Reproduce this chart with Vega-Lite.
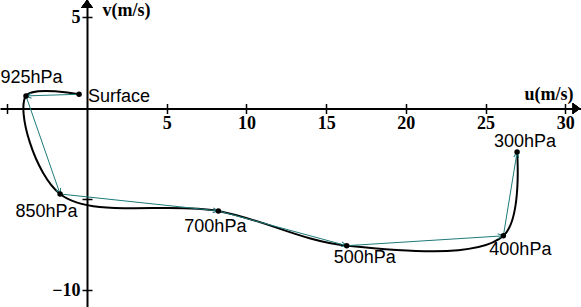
{
  "$schema": "https://vega.github.io/schema/vega-lite/v6.json",
  "width": 581,
  "height": 307,
  "autosize": "none",
  "padding": 0,
  "background": "white",
  "config": {"view": {"stroke": null}, "axis": {"grid": false}},
  "data": {"values": [
    {"i": 0, "level": "Surface", "u": -0.5, "v": 0.78},
    {"i": 1, "level": "925hPa", "u": -3.83, "v": 0.69},
    {"i": 2, "level": "850hPa", "u": -1.69, "v": -4.7},
    {"i": 3, "level": "700hPa", "u": 8.24, "v": -5.63},
    {"i": 4, "level": "500hPa", "u": 16.29, "v": -7.54},
    {"i": 5, "level": "400hPa", "u": 26.12, "v": -7.0},
    {"i": 6, "level": "300hPa", "u": 26.98, "v": -2.39}
  ]},
  "layer": [
    {
      "mark": {"type": "line", "interpolate": "catmull-rom", "color": "black", "strokeWidth": 2},
      "encoding": {
        "x": {"field": "u", "type": "quantitative",
          "scale": {"domain": [-5.46, 30.99], "nice": false, "zero": false},
          "axis": {"orient": "bottom", "offset": -198.5, "values": [-5, 5, 10, 15, 20, 25, 30],
            "labelExpr": "datum.value <= 0 ? '' : datum.label",
            "domainColor": "black", "domainWidth": 2, "tickColor": "black", "tickWidth": 1.5, "tickSize": 5,
            "labelFont": "Liberation Serif", "labelFontWeight": "bold", "labelFontSize": 18, "labelColor": "black",
            "labelPadding": 1, "labelFlush": false, "labelOverlap": false,
            "title": "u(m/s)", "titleFont": "Liberation Serif", "titleFontWeight": "bold", "titleFontSize": 18,
            "titleColor": "black", "titleX": 548.5, "titleY": -9.5, "titleAlign": "center", "titleBaseline": "alphabetic", "titleAngle": 0}},
        "y": {"field": "v", "type": "quantitative",
          "scale": {"domain": [-10.91, 5.96], "nice": false, "zero": false},
          "axis": {"orient": "left", "offset": -87, "values": [-10, -5, 5],
            "labelExpr": "datum.value == -5 ? '' : datum.label",
            "domainColor": "black", "domainWidth": 2, "tickColor": "black", "tickWidth": 1.5, "tickSize": 5,
            "labelFont": "Liberation Serif", "labelFontWeight": "bold", "labelFontSize": 18, "labelColor": "black",
            "labelPadding": 2, "labelFlush": false, "labelOverlap": false,
            "title": "v(m/s)", "titleFont": "Liberation Serif", "titleFontWeight": "bold", "titleFontSize": 18,
            "titleColor": "black", "titleX": 15, "titleY": 15, "titleAlign": "left", "titleBaseline": "alphabetic", "titleAngle": 0}},
        "order": {"field": "i", "type": "quantitative"}
      }
    },
    {
      "transform": [
        {"window": [{"op": "lead", "field": "u", "as": "u2"}, {"op": "lead", "field": "v", "as": "v2"}], "sort": [{"field": "i"}]},
        {"filter": "datum.u2 != null"}
      ],
      "mark": {"type": "rule", "color": "#1f7a7a", "strokeWidth": 1},
      "encoding": {
        "x": {"field": "u", "type": "quantitative",
          "axis": {"orient": "top", "offset": -108.5, "values": [-5, 5, 10, 15, 20, 25, 30], "domain": false, "labels": false,
            "tickColor": "black", "tickWidth": 1.5, "tickSize": 5, "title": null}},
        "y": {"field": "v", "type": "quantitative",
          "axis": {"orient": "right", "offset": -494, "values": [-10, -5, 5], "domain": false, "labels": false,
            "tickColor": "black", "tickWidth": 1.5, "tickSize": 5, "title": null}},
        "x2": {"field": "u2"},
        "y2": {"field": "v2"}
      }
    },
    {
      "transform": [
        {"window": [{"op": "lead", "field": "u", "as": "u2"}, {"op": "lead", "field": "v", "as": "v2"}], "sort": [{"field": "i"}]},
        {"filter": "datum.u2 != null"},
        {"calculate": "atan2((datum.u2 - datum.u) * 15.94, (datum.v2 - datum.v) * 18.2) * 180 / PI", "as": "ang"}
      ],
      "mark": {"type": "point", "shape": "M-0.45,1L0,0L0.45,1", "filled": false, "stroke": "#1f7a7a", "strokeWidth": 1, "size": 121, "opacity": 1},
      "encoding": {
        "x": {"field": "u2", "type": "quantitative", "axis": null},
        "y": {"field": "v2", "type": "quantitative", "axis": null},
        "angle": {"field": "ang", "type": "quantitative", "scale": null}
      }
    },
    {
      "mark": {"type": "point", "filled": true, "color": "black", "size": 30, "opacity": 1},
      "encoding": {
        "x": {"field": "u", "type": "quantitative", "axis": null},
        "y": {"field": "v", "type": "quantitative", "axis": null}
      }
    },
    {
      "transform": [{"filter": "datum.level == 'Surface'"}],
      "mark": {"type": "text", "font": "Liberation Sans", "fontSize": 18, "color": "black", "align": "left", "baseline": "alphabetic", "dx": 9, "dy": 7.5},
      "encoding": {"x": {"field": "u", "type": "quantitative", "axis": null}, "y": {"field": "v", "type": "quantitative", "axis": null}, "text": {"field": "level"}}
    },
    {
      "transform": [{"filter": "datum.level == '925hPa'"}],
      "mark": {"type": "text", "font": "Liberation Sans", "fontSize": 18, "color": "black", "align": "center", "baseline": "alphabetic", "dx": 5.5, "dy": -13},
      "encoding": {"x": {"field": "u", "type": "quantitative", "axis": null}, "y": {"field": "v", "type": "quantitative", "axis": null}, "text": {"field": "level"}}
    },
    {
      "transform": [{"filter": "datum.level == '850hPa'"}],
      "mark": {"type": "text", "font": "Liberation Sans", "fontSize": 18, "color": "black", "align": "center", "baseline": "alphabetic", "dx": -13.5, "dy": 23},
      "encoding": {"x": {"field": "u", "type": "quantitative", "axis": null}, "y": {"field": "v", "type": "quantitative", "axis": null}, "text": {"field": "level"}}
    },
    {
      "transform": [{"filter": "datum.level == '700hPa'"}],
      "mark": {"type": "text", "font": "Liberation Sans", "fontSize": 18, "color": "black", "align": "center", "baseline": "alphabetic", "dx": -3, "dy": 21},
      "encoding": {"x": {"field": "u", "type": "quantitative", "axis": null}, "y": {"field": "v", "type": "quantitative", "axis": null}, "text": {"field": "level"}}
    },
    {
      "transform": [{"filter": "datum.level == '500hPa'"}],
      "mark": {"type": "text", "font": "Liberation Sans", "fontSize": 18, "color": "black", "align": "center", "baseline": "alphabetic", "dx": 18, "dy": 17},
      "encoding": {"x": {"field": "u", "type": "quantitative", "axis": null}, "y": {"field": "v", "type": "quantitative", "axis": null}, "text": {"field": "level"}}
    },
    {
      "transform": [{"filter": "datum.level == '400hPa'"}],
      "mark": {"type": "text", "font": "Liberation Sans", "fontSize": 18, "color": "black", "align": "center", "baseline": "alphabetic", "dx": 17, "dy": 19},
      "encoding": {"x": {"field": "u", "type": "quantitative", "axis": null}, "y": {"field": "v", "type": "quantitative", "axis": null}, "text": {"field": "level"}}
    },
    {
      "transform": [{"filter": "datum.level == '300hPa'"}],
      "mark": {"type": "text", "font": "Liberation Sans", "fontSize": 18, "color": "black", "align": "center", "baseline": "alphabetic", "dx": 8, "dy": -5},
      "encoding": {"x": {"field": "u", "type": "quantitative", "axis": null}, "y": {"field": "v", "type": "quantitative", "axis": null}, "text": {"field": "level"}}
    },
    {
      "mark": {"type": "point", "shape": "M0,-0.67L1,0.67L-1,0.67Z", "filled": true, "color": "black", "size": 144, "opacity": 1},
      "encoding": {
        "x": {"datum": 0, "type": "quantitative", "axis": null},
        "y": {"datum": 5.74, "type": "quantitative", "axis": null}
      }
    },
    {
      "mark": {"type": "point", "shape": "M0.67,0L-0.67,1L-0.67,-1Z", "filled": true, "color": "black", "size": 121, "opacity": 1},
      "encoding": {
        "x": {"datum": 30.7, "type": "quantitative", "axis": null},
        "y": {"datum": 0, "type": "quantitative", "axis": null}
      }
    }
  ]
}
